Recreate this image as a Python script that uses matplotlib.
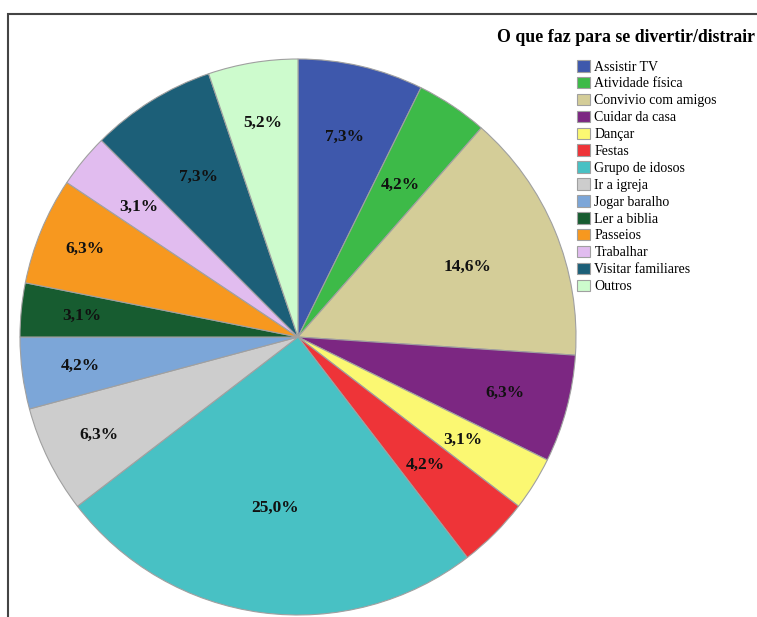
import numpy as np
import matplotlib.pyplot as plt
from matplotlib.patches import Rectangle
from decimal import Decimal, ROUND_HALF_UP

# Respostas: o que faz para se divertir/distrair (n = 96)
categorias = ["Assistir TV", "Atividade física", "Convivio com amigos", "Cuidar da casa",
              "Dançar", "Festas", "Grupo de idosos", "Ir a igreja", "Jogar baralho",
              "Ler a biblia", "Passeios", "Trabalhar", "Visitar familiares", "Outros"]
contagens = [7, 4, 14, 6, 3, 4, 24, 6, 4, 3, 6, 3, 7, 5]

cores = ["#3e58ac", "#3dba48", "#d4cd98", "#7c2782", "#fbf872", "#ee3438", "#48c1c4",
         "#cdcdcd", "#7ca6d8", "#175c30", "#f7981f", "#e1bcef", "#1c5f78", "#cdfbcd"]
# distancia radial de cada rotulo (fracao do raio)
dist_rotulos = [0.74, 0.66, 0.66, 0.77, 0.70, 0.65, 0.62, 0.80, 0.79, 0.78, 0.83, 0.74, 0.68, 0.78]

plt.rcParams["font.family"] = "Liberation Serif"

fig = plt.figure(figsize=(7.57, 6.17), dpi=100)
fig.patches.append(Rectangle((8 / 757, -0.1), 1.5, 1.1 - 14 / 617, transform=fig.transFigure,
                             fill=False, edgecolor="#444444", linewidth=1.5))

ax = fig.add_axes([20 / 757, 2 / 617, 556 / 757, 556 / 617])
wedges, _ = ax.pie(contagens, colors=cores, startangle=90, counterclock=False, radius=1,
                   wedgeprops=dict(edgecolor="#a0a0a0", linewidth=0.8))
ax.set_xlim(-1, 1)
ax.set_ylim(-1, 1)
ax.set_aspect("equal")

total = sum(contagens)
for w, c, d in zip(wedges, contagens, dist_rotulos):
    ang = np.deg2rad((w.theta1 + w.theta2) / 2)
    pct = (Decimal(100 * c) / Decimal(total)).quantize(Decimal("0.1"), rounding=ROUND_HALF_UP)
    txt = "{}%".format(pct).replace(".", ",")
    ax.text(d * np.cos(ang), d * np.sin(ang), txt, ha="center", va="center",
            fontsize=12.5, fontweight="bold", color="#111111")

fig.text(497 / 757, 1 - 38 / 617, "O que faz para se divertir/distrair", ha="left", va="center",
         fontsize=12.8, fontweight="bold")

fig.legend(wedges, categorias, loc="upper left", bbox_to_anchor=(577 / 757, 1 - 60 / 617),
           frameon=False, fontsize=10, handlelength=0.9, handleheight=0.9, handletextpad=0.35,
           labelspacing=0.24, borderpad=0, borderaxespad=0)

plt.savefig("out.png", dpi=100)
